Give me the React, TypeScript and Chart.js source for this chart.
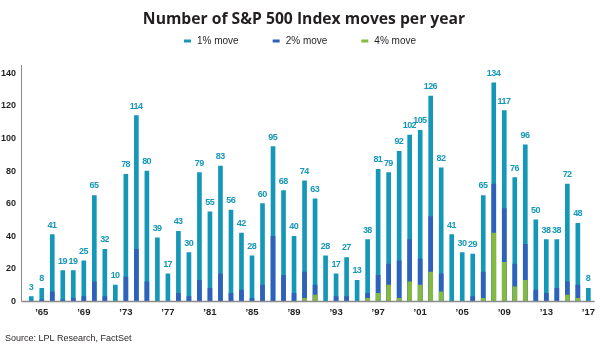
import React, { useEffect, useRef } from "react";
import { Chart, registerables } from "chart.js";

Chart.register(...registerables);

const years = [
  "1964", "1965", "1966", "1967", "1968", "1969", "1970", "1971", "1972", "1973",
  "1974", "1975", "1976", "1977", "1978", "1979", "1980", "1981", "1982", "1983",
  "1984", "1985", "1986", "1987", "1988", "1989", "1990", "1991", "1992", "1993",
  "1994", "1995", "1996", "1997", "1998", "1999", "2000", "2001", "2002", "2003",
  "2004", "2005", "2006", "2007", "2008", "2009", "2010", "2011", "2012", "2013",
  "2014", "2015", "2016", "2017",
];

const oneMove = [
  3, 8, 41, 19, 19, 25, 65, 32, 10, 78,
  114, 80, 39, 17, 43, 30, 79, 55, 83, 56,
  42, 28, 60, 95, 68, 40, 74, 63, 28, 17,
  27, 13, 38, 81, 79, 92, 102, 105, 126, 82,
  41, 30, 29, 65, 134, 117, 76, 96, 50, 38,
  38, 72, 48, 8,
];

const twoMove = [
  0, 1, 6, 1, 2, 3, 12, 3, 0, 15,
  32, 12, 0, 0, 5, 3, 13, 8, 17, 5,
  7, 2, 10, 40, 16, 5, 18, 10, 0, 3,
  3, 0, 5, 16, 23, 25, 38, 26, 52, 17,
  0, 0, 3, 18, 72, 57, 23, 35, 7, 5,
  8, 12, 10, 0,
];

const fourMove = [
  0, 0, 0, 0, 0, 0, 0, 0, 0, 0,
  0, 0, 0, 0, 0, 0, 0, 0, 0, 0,
  0, 0, 0, 0, 0, 0, 2, 4, 0, 0,
  0, 0, 2, 5, 10, 2, 12, 10, 18, 6,
  0, 0, 0, 2, 42, 24, 9, 13, 0, 0,
  0, 4, 2, 0,
];

const seriesNames = ["1% move", "2% move", "4% move"];
const xTickYears = ["1965", "1969", "1973", "1977", "1981", "1985", "1989", "1993", "1997", "2001", "2005", "2009", "2013", "2017"];
const titleText = "Number of S&P 500 Index moves per year";
const sourceText = "Source: LPL Research, FactSet";

const TEAL = "#1597b7";
const BLUE = "#2f60bc";
const GREEN = "#86b940";
const COLORS = [TEAL, BLUE, GREEN];
const TEXT = "#231f20";
const AXIS = "#8c8c8c";
const FONT = "'Liberation Sans', Arial, sans-serif";

const chromePlugin = {
  id: "chrome",
  afterDatasetsDraw(chart: any) {
    const ctx = chart.ctx;
    const area = chart.chartArea;
    const yScale = chart.scales.y;
    ctx.save();
    // axis lines
    ctx.strokeStyle = AXIS;
    ctx.lineWidth = 1;
    const axX = area.left - 4.5;
    ctx.beginPath();
    ctx.moveTo(axX, area.top);
    ctx.lineTo(axX, area.bottom);
    ctx.stroke();
    ctx.lineWidth = 1.5;
    ctx.beginPath();
    ctx.moveTo(axX, yScale.getPixelForValue(0));
    ctx.lineTo(area.right + 1, yScale.getPixelForValue(0));
    ctx.stroke();

    // value labels above 1% bars
    const meta = chart.getDatasetMeta(0);
    ctx.fillStyle = TEAL;
    ctx.font = `bold 9px ${FONT}`;
    try {
      (ctx as any).letterSpacing = "-0.6px";
    } catch (e) {}
    ctx.textAlign = "center";
    ctx.textBaseline = "alphabetic";
    meta.data.forEach((el: any, i: number) => {
      ctx.fillText(String(oneMove[i]), el.x - 0.3, el.y - 7);
    });
    try {
      (ctx as any).letterSpacing = "0px";
    } catch (e) {}
    ctx.restore();
  },
  afterDraw(chart: any) {
    const ctx = chart.ctx;
    ctx.save();
    // title
    ctx.fillStyle = TEXT;
    ctx.font = `bold 15.7px 'Open Sans', ${FONT}`;
    ctx.textAlign = "center";
    ctx.textBaseline = "middle";
    ctx.fillText(titleText, 304, 20);

    // legend
    ctx.font = `10px ${FONT}`;
    const dashW = 7;
    const gapA = 6;
    const gapB = 34;
    const widths = seriesNames.map((n) => dashW + gapA + ctx.measureText(n).width);
    const total = widths.reduce((a, b) => a + b, 0) + gapB * (seriesNames.length - 1);
    let x = 300 - total / 2;
    const ly = 41;
    ctx.textAlign = "left";
    ctx.textBaseline = "middle";
    seriesNames.forEach((n, i) => {
      ctx.fillStyle = COLORS[i];
      ctx.fillRect(x, ly - 1.5, dashW, 3);
      ctx.fillStyle = TEXT;
      ctx.fillText(n, x + dashW + gapA, ly + 0.5);
      x += widths[i] + gapB;
    });

    // source
    ctx.font = `9px ${FONT}`;
    ctx.fillStyle = TEXT;
    ctx.textAlign = "left";
    ctx.fillText(sourceText, 5, 339);
    ctx.restore();
  },
};

export default function App() {
  const ref = useRef<HTMLCanvasElement | null>(null);

  useEffect(() => {
    document.body.style.margin = "0";
    const canvas = ref.current;
    if (!canvas) return;
    const mk = (i: number, data: number[], order: number) => ({
      label: seriesNames[i],
      data,
      backgroundColor: COLORS[i],
      borderWidth: 0,
      barThickness: 4,
      order,
    });
    const chart = new Chart(canvas, {
      type: "bar",
      data: {
        labels: years,
        datasets: [mk(0, oneMove, 3), mk(1, twoMove, 2), mk(2, fourMove, 1)],
      },
      options: {
        responsive: false,
        animation: false,
        devicePixelRatio: 1,
        layout: { padding: { top: 65, right: 4, left: 0, bottom: 0 } },
        plugins: {
          legend: { display: false },
          title: { display: false },
          tooltip: { enabled: false },
        },
        scales: {
          x: {
            stacked: true,
            grid: { display: false, drawTicks: false },
            border: { display: false },
            afterFit: (s: any) => {
              s.height = 60.5;
            },
            ticks: {
              autoSkip: false,
              maxRotation: 0,
              minRotation: 0,
              padding: 5,
              color: TEXT,
              font: { family: FONT, size: 9.5, weight: "bold" },
              callback: (_v: any, idx: number) =>
                xTickYears.includes(years[idx]) ? "\u2019" + years[idx].slice(2) : "",
            },
          },
          y: {
            stacked: false,
            min: 0,
            max: 145,
            grid: { display: false, drawTicks: false },
            border: { display: false },
            afterFit: (s: any) => {
              s.width = 26;
            },
            ticks: {
              stepSize: 20,
              includeBounds: false,
              padding: 10,
              color: TEXT,
              font: { family: FONT, size: 9, weight: "bold" },
              callback: (v: any) => (Number(v) % 20 === 0 ? String(v) : ""),
            },
          },
        },
      },
      plugins: [chromePlugin],
    });
    return () => chart.destroy();
  }, []);

  return (
    <div style={{ width: 600, height: 362 }}>
      <canvas ref={ref} width={600} height={362} style={{ display: "block", width: 600, height: 362 }} />
    </div>
  );
}
